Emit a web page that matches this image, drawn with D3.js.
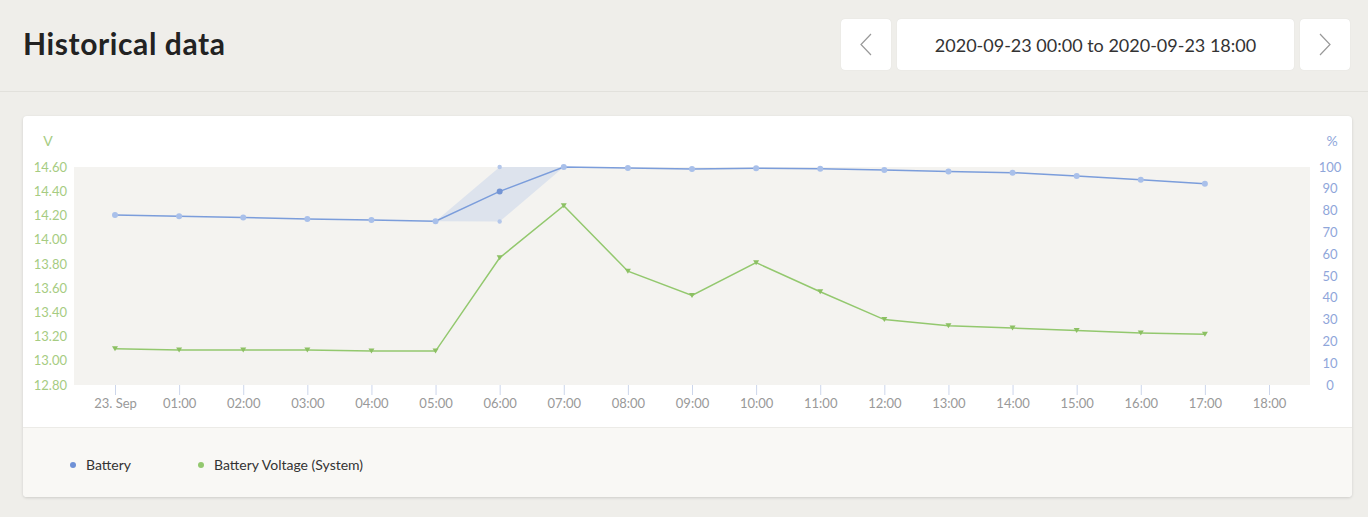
<!DOCTYPE html>
<html>
<head>
<meta charset="utf-8">
<script src="https://cdn.jsdelivr.net/npm/d3@7"></script>
<style>
  body { margin: 0; background: #efeeea; font-family: Lato, "Open Sans", sans-serif; width: 1368px; height: 517px; overflow: hidden; position: relative; }
  .head { position: absolute; left: 0; top: 0; width: 1368px; height: 91px; border-bottom: 1px solid #e2e1dc; }
  .title { position: absolute; left: 23px; top: 25px; font-size: 30px; font-weight: 700; color: #222; letter-spacing: 0.6px; }
  .btn { position: absolute; top: 19px; height: 51px; background: #fff; border-radius: 4px; box-shadow: 0 0 1px rgba(0,0,0,0.12); }
  .range { font-size: 18px; color: #333; line-height: 53px; text-align: center; }
  .card { position: absolute; left: 23px; top: 116px; width: 1329px; height: 381px; background: #fff; border-radius: 4px; box-shadow: 0 1px 3px rgba(0,0,0,0.14); overflow: hidden; }
  .legend { position: absolute; left: 0; top: 311px; width: 1329px; height: 70px; background: #f9f8f5; border-top: 1px solid #ecebe7; }
</style>
</head>
<body>
<div class="head">
  <div class="title">Historical data</div>
  <div class="btn" style="left:841px;width:50px"><svg width="50" height="51"><polyline points="30,15 20,25.5 30,36" fill="none" stroke="#999" stroke-width="1.2"/></svg></div>
  <div class="btn range" style="left:897px;width:397px">2020-09-23 00:00 to 2020-09-23 18:00</div>
  <div class="btn" style="left:1300px;width:50px"><svg width="50" height="51"><polyline points="20,15 30,25.5 20,36" fill="none" stroke="#999" stroke-width="1.2"/></svg></div>
</div>
<div class="card" id="card">
  <div class="legend" id="legend"></div>
</div>
<script>
// hours of the day (00:00 .. 17:00)
const hours = [0,1,2,3,4,5,6,7,8,9,10,11,12,13,14,15,16,17];
// Battery state of charge, %
const batterySoc = [78.0,77.4,76.8,76.2,75.7,75.1,88.8,100,99.5,99.1,99.4,99.2,98.6,97.9,97.4,95.9,94.2,92.3];
// min/max band of the battery series (only at 06:00)
const socBandHour = [5,6,7];
const socBandLow = [75.1,75.0,100];
const socBandHigh = [75.1,100,100];
// Battery voltage (System), V
const batteryVolt = [13.10,13.09,13.09,13.09,13.08,13.08,13.85,14.28,13.74,13.54,13.81,13.57,13.34,13.29,13.27,13.25,13.23,13.22];
const voltTicks = [12.8,13.0,13.2,13.4,13.6,13.8,14.0,14.2,14.4,14.6];
const pctTicks = [0,10,20,30,40,50,60,70,80,90,100];
const xTickLabels = ["23. Sep","01:00","02:00","03:00","04:00","05:00","06:00","07:00","08:00","09:00","10:00","11:00","12:00","13:00","14:00","15:00","16:00","17:00","18:00"];

const W = 1329, H = 311;
const plot = {left: 51, right: 1287, top: 51, bottom: 269};
const blue = "#7b9ddb", blueMark = "#a9c0ea", green = "#93c86e", greenMark = "#8cc063";

const svg = d3.select("#card").insert("svg", ":first-child")
  .attr("width", W).attr("height", H)
  .style("position", "absolute").style("left", 0).style("top", 0);

const x = d3.scaleLinear().domain([0, 18]).range([92, 1246]);
const yV = d3.scaleLinear().domain([12.8, 14.6]).range([plot.bottom, plot.top]);
const yP = d3.scaleLinear().domain([0, 100]).range([plot.bottom, plot.top]);

svg.append("rect")
  .attr("x", plot.left).attr("y", plot.top)
  .attr("width", plot.right - plot.left).attr("height", plot.bottom - plot.top)
  .attr("fill", "#f4f3f0");

// x axis
const xAxis = svg.append("g")
  .attr("transform", `translate(0,${plot.bottom})`)
  .call(d3.axisBottom(x).tickValues(d3.range(0, 19)).tickSize(10).tickPadding(4)
    .tickFormat(i => xTickLabels[i]));
xAxis.select(".domain").remove();
xAxis.selectAll("line").attr("stroke", "#ccd6eb");
xAxis.selectAll("text").attr("fill", "#999").attr("font-size", 13).attr("font-family", "Lato, sans-serif");

// left axis (V)
const yLeft = svg.append("g")
  .attr("transform", `translate(44,0)`)
  .call(d3.axisLeft(yV).tickValues(voltTicks).tickSize(0).tickPadding(0).tickFormat(d3.format(".2f")));
yLeft.select(".domain").remove();
yLeft.selectAll("text").attr("fill", "#a6cc82").attr("font-size", 13).attr("font-family", "Lato, sans-serif");

// right axis (%)
const yRight = svg.append("g")
  .attr("transform", `translate(1307,0)`)
  .call(d3.axisRight(yP).tickValues(pctTicks).tickSize(0).tickPadding(0));
yRight.select(".domain").remove();
yRight.selectAll("text").attr("fill", "#8fa6da").attr("font-size", 13).attr("font-family", "Lato, sans-serif")
  .attr("text-anchor", "middle");

svg.append("text").attr("x", 25).attr("y", 30).attr("text-anchor", "middle")
  .attr("fill", "#a6cc82").attr("font-size", 14).text("V");
svg.append("text").attr("x", 1309).attr("y", 30).attr("text-anchor", "middle")
  .attr("fill", "#8fa6da").attr("font-size", 14).text("%");

// band
const band = socBandHour.map((h, i) => ({h, lo: socBandLow[i], hi: socBandHigh[i]}));
svg.append("path")
  .datum(band)
  .attr("fill", "#dde3ed")
  .attr("d", d3.area().x(d => x(d.h)).y0(d => yP(d.lo)).y1(d => yP(d.hi)));
svg.selectAll(".bandpt")
  .data([band[1].lo, band[1].hi])
  .enter().append("circle")
  .attr("cx", x(6)).attr("cy", d => yP(d)).attr("r", 2.2).attr("fill", "#b4c7ea");

// battery line
const soc = hours.map((h, i) => ({h, v: batterySoc[i]}));
svg.append("path").datum(soc)
  .attr("fill", "none").attr("stroke", blue).attr("stroke-width", 1.5)
  .attr("d", d3.line().x(d => x(d.h)).y(d => yP(d.v)));
svg.selectAll(".socpt").data(soc).enter().append("circle")
  .attr("cx", d => x(d.h)).attr("cy", d => yP(d.v)).attr("r", 3)
  .attr("fill", d => d.h === 6 ? "#7394d4" : blueMark);

// voltage line
const volt = hours.map((h, i) => ({h, v: batteryVolt[i]}));
svg.append("path").datum(volt)
  .attr("fill", "none").attr("stroke", green).attr("stroke-width", 1.5)
  .attr("d", d3.line().x(d => x(d.h)).y(d => yV(d.v)));
svg.selectAll(".vpt").data(volt).enter().append("path")
  .attr("transform", d => `translate(${x(d.h)},${yV(d.v)})`)
  .attr("d", "M-3,-2.5L3,-2.5L0,2.5Z")
  .attr("fill", greenMark);

// legend
const leg = d3.select("#legend").append("svg").attr("width", W).attr("height", 70);
const items = [{name: "Battery", color: "#6f91d6", x: 50}, {name: "Battery Voltage (System)", color: "#93c86e", x: 178}];
const li = leg.selectAll("g").data(items).enter().append("g")
  .attr("transform", d => `translate(${d.x},37)`);
li.append("circle").attr("r", 3).attr("fill", d => d.color);
li.append("text").attr("x", 13).attr("y", 5).attr("font-size", 14).attr("fill", "#333")
  .attr("font-family", "Lato, sans-serif").text(d => d.name);
</script>
</body>
</html>
